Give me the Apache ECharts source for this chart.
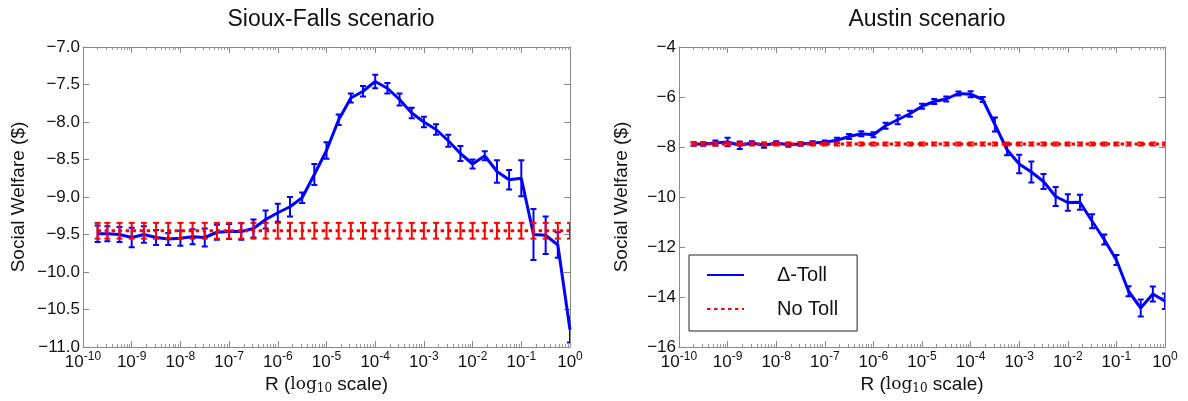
<!DOCTYPE html>
<html>
<head>
<meta charset="utf-8">
<script src="https://cdn.jsdelivr.net/npm/echarts@6/dist/echarts.min.js"></script>
<style>
  html, body { margin: 0; padding: 0; background: #fff; }
  #chart { width: 1188px; height: 401px; }
</style>
</head>
<body>
<div id="chart"></div>
<script>
// R values as log10 exponents (shared by both scenarios)
const rExp = [-9.7, -9.5, -9.25, -9, -8.75, -8.5, -8.25, -8, -7.75, -7.5,
  -7.25, -7, -6.75, -6.5, -6.25, -6, -5.75, -5.5, -5.25, -5,
  -4.75, -4.5, -4.25, -4, -3.75, -3.5, -3.25, -3, -2.75, -2.5,
  -2.25, -2, -1.75, -1.5, -1.25, -1, -0.75, -0.5, -0.25, 0]

// Sioux-Falls
const sfToll = [-9.49, -9.49, -9.50, -9.54, -9.50, -9.54, -9.56, -9.55, -9.53, -9.54,
  -9.47, -9.46, -9.46, -9.42, -9.30, -9.21, -9.13, -9.01, -8.70, -8.38,
  -7.97, -7.68, -7.59, -7.46, -7.55, -7.70, -7.88, -8.00, -8.10, -8.25,
  -8.42, -8.56, -8.45, -8.66, -8.77, -8.75, -9.50, -9.51, -9.64, -10.77]
const sfTollErr = [0.11, 0.10, 0.10, 0.13, 0.11, 0.10, 0.08, 0.10, 0.10, 0.12,
  0.10, 0.10, 0.11, 0.12, 0.12, 0.12, 0.13, 0.07, 0.14, 0.11,
  0.07, 0.06, 0.07, 0.09, 0.07, 0.08, 0.07, 0.07, 0.07, 0.08,
  0.10, 0.06, 0.06, 0.15, 0.13, 0.24, 0.34, 0.25, 0.17, 0.17]
const sfNoToll = [-9.45, -9.45, -9.45, -9.45, -9.45, -9.45, -9.45, -9.45, -9.45, -9.45,
  -9.45, -9.45, -9.45, -9.45, -9.45, -9.45, -9.45, -9.45, -9.45, -9.45,
  -9.45, -9.45, -9.45, -9.45, -9.45, -9.45, -9.45, -9.45, -9.45, -9.45,
  -9.45, -9.45, -9.45, -9.45, -9.45, -9.45, -9.45, -9.45, -9.45, -9.45]
const sfNoTollErr = 0.105

// Austin
const auToll = [-7.88, -7.88, -7.84, -7.80, -7.93, -7.84, -7.93, -7.84, -7.91, -7.88,
  -7.84, -7.81, -7.73, -7.58, -7.47, -7.51, -7.15, -6.91, -6.67, -6.37,
  -6.18, -6.08, -5.86, -5.89, -6.10, -7.10, -8.11, -8.68, -9.00, -9.38,
  -9.98, -10.22, -10.21, -10.97, -11.70, -12.52, -13.77, -14.44, -13.88, -14.17]
const auTollErr = [0.07, 0.07, 0.10, 0.17, 0.15, 0.07, 0.10, 0.07, 0.08, 0.07,
  0.07, 0.07, 0.10, 0.10, 0.10, 0.10, 0.12, 0.18, 0.12, 0.10,
  0.10, 0.10, 0.08, 0.12, 0.10, 0.28, 0.22, 0.37, 0.42, 0.30,
  0.38, 0.33, 0.30, 0.28, 0.20, 0.20, 0.20, 0.34, 0.30, 0.31]
const auNoToll = [-7.88, -7.88, -7.88, -7.88, -7.88, -7.88, -7.88, -7.88, -7.88, -7.88,
  -7.88, -7.88, -7.88, -7.88, -7.88, -7.88, -7.88, -7.88, -7.88, -7.88,
  -7.88, -7.88, -7.88, -7.88, -7.88, -7.88, -7.88, -7.88, -7.88, -7.88,
  -7.88, -7.88, -7.88, -7.88, -7.88, -7.88, -7.88, -7.88, -7.88, -7.88]
const auNoTollErr = 0.06

const BLUE = '#0000ff'
const RED = '#ff0000'
const FONT = 'Liberation Sans'

const chart = echarts.init(document.getElementById('chart'), null, {renderer: 'canvas'})

function pts(vals) {
  return vals.map((v, i) => [Math.pow(10, rExp[i]), v])
}
function errPts(vals, err) {
  return vals.map((v, i) => {
    const e = Array.isArray(err) ? err[i] : err
    return [Math.pow(10, rExp[i]), v - e, v + e]
  })
}

// vertical bar with caps, like matplotlib errorbar
function errRender(params, api) {
  const x = api.value(0)
  const top = api.coord([x, api.value(2)])
  const bot = api.coord([x, api.value(1)])
  const c = api.visual('color')
  const w = 3
  const style = {stroke: c, lineWidth: 2}
  return {
    type: 'group',
    children: [
      {type: 'line', shape: {x1: top[0], y1: top[1], x2: bot[0], y2: bot[1]}, style: style},
      {type: 'line', shape: {x1: top[0] - w, y1: top[1], x2: top[0] + w, y2: top[1]}, style: style},
      {type: 'line', shape: {x1: bot[0] - w, y1: bot[1], x2: bot[0] + w, y2: bot[1]}, style: style}
    ]
  }
}

function xLabel(v) {
  const e = Math.round(Math.log10(v))
  return '{b|10}{s|' + e + '}'
}

const axisLine = {show: true, lineStyle: {color: '#888', width: 1}}
const tickIn = {show: true, inside: true, length: 6, lineStyle: {color: '#888'}}
const minorIn = {show: true, splitNumber: 9, length: 3, lineStyle: {color: '#999'}}

function xAxes(gridIndex) {
  return [
    {
      type: 'log', logBase: 10, gridIndex: gridIndex, min: 1e-10, max: 1, interval: 1,
      position: 'bottom',
      axisLine: axisLine, axisTick: tickIn, minorTick: minorIn, splitLine: {show: false},
      axisLabel: {
        formatter: xLabel, margin: 4, color: '#111',
        rich: {
          b: {fontFamily: FONT, fontSize: 17, color: '#111'},
          s: {fontFamily: FONT, fontSize: 12, color: '#111', padding: [0, 0, 10, 0]}
        }
      },
      name: '{a|R (}{l|log}{sub|10}{a| scale)}',
      nameLocation: 'middle', nameGap: 28,
      nameTextStyle: {
        rich: {
          a: {fontFamily: FONT, fontSize: 19, color: '#111'},
          l: {fontFamily: 'DejaVu Serif', fontSize: 17, color: '#111'},
          sub: {fontFamily: 'DejaVu Serif', fontSize: 12, color: '#111', padding: [8, 0, 0, 0]}
        }
      }
    },
    {
      type: 'log', logBase: 10, gridIndex: gridIndex, min: 1e-10, max: 1, interval: 1,
      position: 'top',
      axisLine: axisLine, axisTick: tickIn, minorTick: minorIn, splitLine: {show: false},
      axisLabel: {show: false}
    }
  ]
}

function yAxes(gridIndex, min, max, interval, digits, nameGap) {
  const fmt = v => (v < 0 ? '\u2212' : '') + Math.abs(v).toFixed(digits)
  return [
    {
      type: 'value', gridIndex: gridIndex, min: min, max: max, interval: interval,
      position: 'left',
      axisLine: axisLine, axisTick: tickIn, splitLine: {show: false},
      axisLabel: {formatter: fmt, fontFamily: FONT, fontSize: 17, color: '#111', margin: 3},
      name: 'Social Welfare ($)', nameLocation: 'middle', nameGap: nameGap,
      nameTextStyle: {fontFamily: FONT, fontSize: 19, color: '#111'}
    },
    {
      type: 'value', gridIndex: gridIndex, min: min, max: max, interval: interval,
      position: 'right',
      axisLine: axisLine, axisTick: tickIn, splitLine: {show: false},
      axisLabel: {show: false}
    }
  ]
}

function lineSeries(name, xi, yi, vals, color, dashed) {
  return {
    name: name, type: 'line', xAxisIndex: xi, yAxisIndex: yi,
    data: pts(vals), symbol: 'none', showSymbol: false, animation: false,
    z: dashed ? 4 : 2,
    itemStyle: {color: color},
    lineStyle: {color: color, width: 3, type: dashed ? [3.5, 3.5] : 'solid'}
  }
}
function errSeries(xi, yi, vals, err, color, z) {
  return {
    name: 'err', type: 'custom', xAxisIndex: xi, yAxisIndex: yi,
    data: errPts(vals, err), renderItem: errRender, clip: true, animation: false,
    encode: {x: 0, y: [1, 2]}, z: z,
    itemStyle: {color: color}
  }
}

const option = {
  backgroundColor: '#fff',
  animation: false,
  title: [
    {text: 'Sioux-Falls scenario', left: 326, top: 3, textAlign: 'center',
      textStyle: {fontFamily: FONT, fontSize: 23, fontWeight: 'normal', color: '#111'}},
    {text: 'Austin scenario', left: 922, top: 3, textAlign: 'center',
      textStyle: {fontFamily: FONT, fontSize: 23, fontWeight: 'normal', color: '#111'}}
  ],
  grid: [
    {left: 83, right: 618, top: 47, bottom: 54},
    {left: 679, right: 23, top: 47, bottom: 54}
  ],
  xAxis: [...xAxes(0), ...xAxes(1)],
  yAxis: [...yAxes(0, -11, -7, 0.5, 1, 55), ...yAxes(1, -16, -4, 2, 0, 48)],
  legend: {
    data: ['\u0394-Toll', 'No Toll'],
    orient: 'vertical', left: 689, top: 255,
    backgroundColor: '#fff', borderColor: '#222', borderWidth: 1, borderRadius: 0,
    padding: [10, 19, 12, 17], itemGap: 14, itemWidth: 37, itemHeight: 14,
    itemStyle: {opacity: 0},
    textStyle: {fontFamily: FONT, fontSize: 20, color: '#111', padding: [0, 0, 0, 28]}
  },
  series: [
    lineSeries('\u0394-Toll', 0, 0, sfToll, BLUE, false),
    errSeries(0, 0, sfToll, sfTollErr, BLUE, 3),
    lineSeries('No Toll', 0, 0, sfNoToll, RED, true),
    errSeries(0, 0, sfNoToll, sfNoTollErr, RED, 5),
    lineSeries('\u0394-Toll', 2, 2, auToll, BLUE, false),
    errSeries(2, 2, auToll, auTollErr, BLUE, 3),
    lineSeries('No Toll', 2, 2, auNoToll, RED, true),
    errSeries(2, 2, auNoToll, auNoTollErr, RED, 5)
  ]
}

chart.setOption(option)
</script>
</body>
</html>
